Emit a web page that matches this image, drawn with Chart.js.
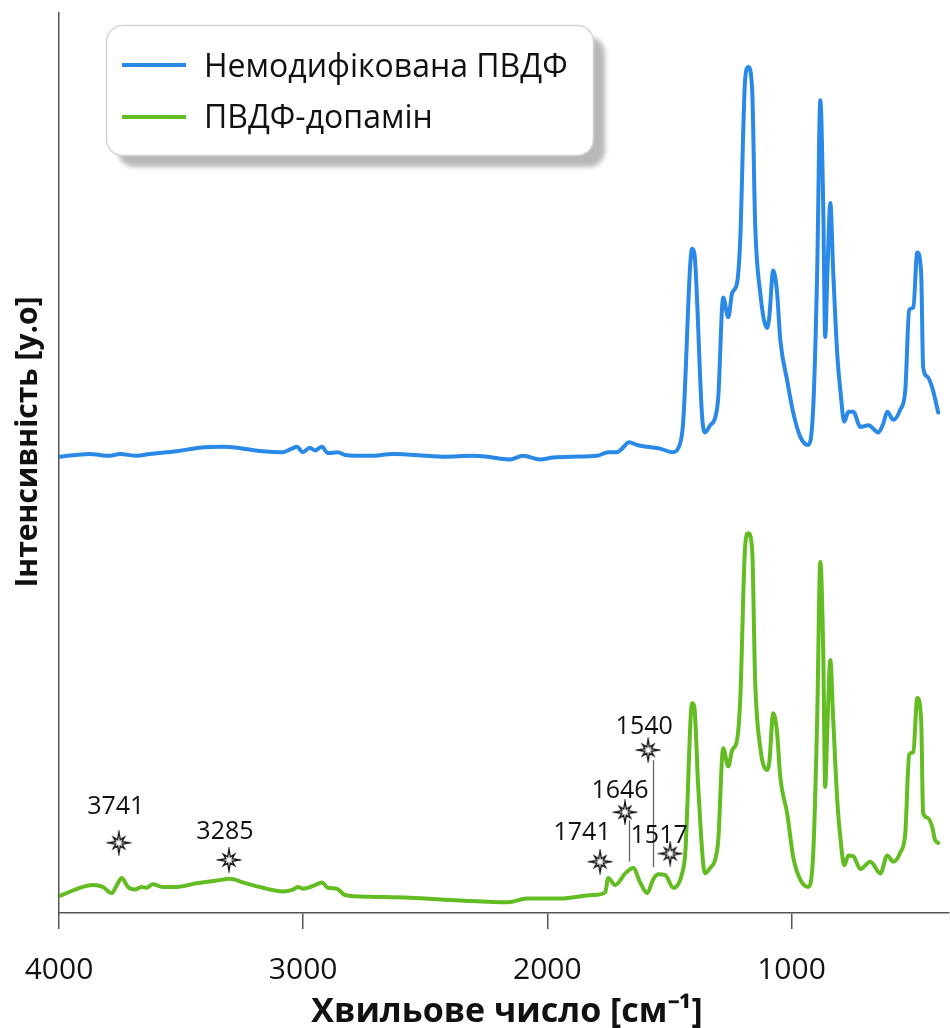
<!DOCTYPE html>
<html>
<head>
<meta charset="utf-8">
<script src="https://cdn.jsdelivr.net/npm/chart.js@4.4.1/dist/chart.umd.min.js"></script>
<style>
  body { margin: 0; background: #fff; }
  #wrap { width: 950px; height: 1028px; position: relative; }
</style>
</head>
<body>
<div id="wrap"><canvas id="FTIR_CHART"></canvas></div>
<script>
// spectra (wavenumber, intensity a.u.)
const blueWn = [3997,3874,3792,3751,3682,3628,3518,3424,3329,3272,3165,3083,3046,3026,3001,2973,2952,2923,2899,2858,2829,2727,2632,2427,2304,2247,2153,2100,2030,1977,1895,1796,1751,1714,1694,1665,1632,1591,1538,1489,1456,1444,1407,1398,1366,1354,1333,1313,1300,1280,1259,1243,1223,1210,1190,1177,1161,1149,1128,1100,1091,1075,1059,1046,1018,993,964,932,911,895,882,870,862,853,841,829,812,800,784,767,747,718,685,644,624,608,583,555,534,518,501,485,469,461,444,424,399];
const blueI = [50.7,51.0,50.8,51.0,50.8,51.0,51.3,51.7,51.8,51.7,51.3,51.2,51.6,51.8,51.2,51.7,51.4,51.8,51.1,51.2,50.9,50.8,51.0,50.7,50.8,50.7,50.4,50.8,50.4,50.6,50.7,50.8,51.2,51.2,51.6,52.3,52.0,51.8,51.6,51.2,52.2,54.4,73.8,73.3,55.1,53.4,54.2,55.0,57.3,68.4,66.2,68.9,70.0,74.8,92.6,94.0,91.4,76.7,68.9,65.0,66.2,71.4,68.9,63.7,59.2,55.6,52.9,52.0,56.2,71.1,90.3,78.4,64.0,71.1,78.9,71.1,61.8,58.1,54.6,55.7,55.7,54.0,54.2,53.4,54.4,55.7,54.8,55.9,58.1,67.0,67.3,73.4,71.1,60.7,59.6,58.4,55.6];

const greenWn = [3997,3903,3862,3821,3784,3763,3743,3718,3690,3661,3641,3616,3575,3518,3436,3354,3300,3247,3165,3083,3042,3022,3001,2960,2923,2899,2862,2829,2727,2563,2358,2161,2083,1948,1813,1763,1751,1722,1681,1648,1620,1591,1567,1546,1517,1484,1448,1435,1407,1398,1382,1354,1333,1313,1300,1280,1259,1243,1223,1210,1190,1177,1161,1149,1128,1100,1091,1075,1059,1046,1018,993,964,932,911,895,882,870,862,853,841,829,812,800,784,767,747,718,677,636,608,583,555,534,518,501,485,469,461,444,424,412,399];
const greenI = [1.9,2.9,3.1,2.9,2.2,3.1,3.9,2.9,2.6,2.9,2.8,3.2,2.9,2.9,3.3,3.6,3.8,3.4,2.8,2.4,2.6,2.9,2.7,3.0,3.4,2.8,2.7,2.0,1.8,1.7,1.4,1.2,1.6,1.6,2.0,2.3,3.9,3.1,4.4,5.0,3.4,2.2,3.7,4.3,4.2,2.8,4.4,6.7,23.3,22.9,14.0,4.4,5.0,5.9,8.1,18.3,16.3,18.1,19.2,23.7,40.7,42.2,40.3,25.9,18.4,15.9,16.7,22.2,20.0,15.1,11.1,6.2,3.7,2.9,6.7,21.4,39.0,28.9,14.0,20.7,28.1,21.4,12.2,8.4,5.3,6.4,6.3,4.9,5.7,4.4,6.4,5.7,6.7,8.9,17.6,17.9,23.9,21.4,11.1,10.6,9.6,8.1,7.8];

const seriesNames = ['Немодифікована ПВДФ', 'ПВДФ-допамін'];

// marked bands (stars) on the dopamine curve
const markLabels = ['3741', '3285', '1741', '1646', '1540', '1517'];
const markWn = [3755, 3304, 1784, 1682, 1587, 1497];
const markI = [7.8, 5.9, 5.7, 11.2, 18.1, 6.6];
// thin guide lines under two of the stars
const leaderWn = [1665, 1567];
const leaderTop = [10.3, 17.0];
const leaderBottom = [5.7, 5.1];

const xTicks = [4000, 3000, 2000, 1000];

function toPoints(xs, ys){
    return xs.map((x, i) => ({x: x, y: ys[i]}));
}

function makeStar(){
    let c = document.createElement('canvas');
    c.width = 26; c.height = 26;
    let g = c.getContext('2d');
    g.translate(13, 13);
    g.beginPath();
    for(let i = 0; i < 16; i++){
        let a = i * Math.PI / 8 - Math.PI / 2;
        let r = (i % 2) ? 3.4 : ((i % 4 == 0) ? 11 : 8);
        let px = Math.cos(a) * r, py = Math.sin(a) * r;
        if(i == 0) g.moveTo(px, py); else g.lineTo(px, py);
    }
    g.closePath();
    g.fillStyle = '#fff';
    g.fill();
    g.strokeStyle = '#111';
    g.lineWidth = 1.3;
    g.stroke();
    return c;
}

const extras = {
    id: 'extras',
    beforeDatasetsDraw(chart){
        const ctx = chart.ctx, xs = chart.scales.x, ys = chart.scales.y;
        ctx.save();
        ctx.strokeStyle = '#666';
        ctx.lineWidth = 1.3;
        leaderWn.forEach((w, i) => {
            let px = Math.round(xs.getPixelForValue(w)) + 0.5;
            ctx.beginPath();
            ctx.moveTo(px, ys.getPixelForValue(leaderTop[i]));
            ctx.lineTo(px, ys.getPixelForValue(leaderBottom[i]));
            ctx.stroke();
        });
        ctx.restore();
    },
    afterDraw(chart){
        const ctx = chart.ctx, xs = chart.scales.x, ys = chart.scales.y;
        ctx.save();

        // band numbers above the stars (offset of the text baseline)
        const off = [[-3,-29],[-4,-21],[-18,-22],[-5,-14],[-4,-16],[-11,-11]];
        ctx.font = '25px "Open Sans"';
        ctx.fillStyle = '#111';
        ctx.textAlign = 'center';
        ctx.textBaseline = 'alphabetic';
        markLabels.forEach((t, i) => {
            let px = xs.getPixelForValue(markWn[i]);
            let py = ys.getPixelForValue(markI[i]);
            ctx.fillText(t, px + off[i][0], py + off[i][1]);
        });

        // x title
        ctx.font = 'bold 34px "Open Sans"';
        ctx.fillText('Хвильове число [см⁻¹]', 507, 1022);

        // y title
        ctx.save();
        ctx.translate(28, 442);
        ctx.rotate(-Math.PI / 2);
        ctx.textBaseline = 'middle';
        ctx.font = 'bold 30px "Open Sans"';
        ctx.fillText('Інтенсивність [у.о]', 0, 0);
        ctx.restore();

        // legend box with drop shadow
        let bx = 106, by = 25, bw = 487, bh = 130;
        ctx.save();
        ctx.shadowColor = 'rgba(0,0,0,0.28)';
        ctx.shadowBlur = 5;
        ctx.shadowOffsetX = 12;
        ctx.shadowOffsetY = 12;
        ctx.beginPath();
        ctx.roundRect(bx, by, bw, bh, 16);
        ctx.fillStyle = '#fff';
        ctx.fill();
        ctx.restore();
        ctx.beginPath();
        ctx.roundRect(bx + 0.5, by + 0.5, bw, bh, 16);
        ctx.strokeStyle = '#d4d4d4';
        ctx.lineWidth = 1.5;
        ctx.stroke();

        const lineY = [65, 117];
        const textY = [77, 128];
        ctx.font = '32px "Open Sans"';
        ctx.textAlign = 'left';
        chart.data.datasets.slice(0, 2).forEach((ds, i) => {
            ctx.strokeStyle = ds.borderColor;
            ctx.lineWidth = 4;
            ctx.beginPath();
            ctx.moveTo(122, lineY[i]);
            ctx.lineTo(186, lineY[i]);
            ctx.stroke();
            ctx.fillStyle = '#111';
            ctx.fillText(ds.label, 204, textY[i]);
        });
        ctx.restore();
    }
};

let ctx = document.getElementById('FTIR_CHART');

let myChart = new Chart(ctx, {
    type: 'line',
    data: {
        datasets: [{
            label: seriesNames[0],
            data: toPoints(blueWn, blueI),
            borderColor: '#2a89e7',
            borderWidth: 4,
            order: 1
        },{
            label: seriesNames[1],
            data: toPoints(greenWn, greenI),
            borderColor: '#63bd22',
            borderWidth: 4,
            order: 1
        },{
            label: 'marks',
            data: toPoints(markWn, markI),
            showLine: false,
            pointStyle: makeStar(),
            pointRadius: 10,
            order: 0
        }]
    },
    options: {
        responsive: true,
        maintainAspectRatio: false,
        animation: false,
        layout: {
            autoPadding: false,
            padding: {left: 59, top: 13, right: 1, bottom: 17}
        },
        elements: {
            point: { radius: 0 },
            line: { cubicInterpolationMode: 'monotone', borderJoinStyle: 'round', borderCapStyle: 'round' }
        },
        scales: {
            x: {
                type: 'linear',
                reverse: true,
                min: 355,
                max: 4000,
                afterBuildTicks: function(scale){
                    scale.ticks = xTicks.map(v => ({value: v}));
                },
                grid: {
                    drawOnChartArea: false,
                    drawTicks: true,
                    tickLength: 16,
                    color: '#555',
                    lineWidth: 1.5
                },
                border: { color: '#555', width: 1.5 },
                ticks: {
                    autoSkip: false,
                    maxRotation: 0,
                    padding: 23,
                    color: '#111',
                    font: { family: 'Open Sans', size: 30 },
                    callback: function(v){ return String(v); }
                }
            },
            y: {
                min: 0,
                max: 100,
                ticks: { display: false },
                grid: { display: false, drawTicks: false },
                border: { color: '#555', width: 1.5 }
            }
        },
        plugins: {
            legend: { display: false },
            tooltip: { enabled: false }
        }
    },
    plugins: [extras]
});
</script>
</body>
</html>
